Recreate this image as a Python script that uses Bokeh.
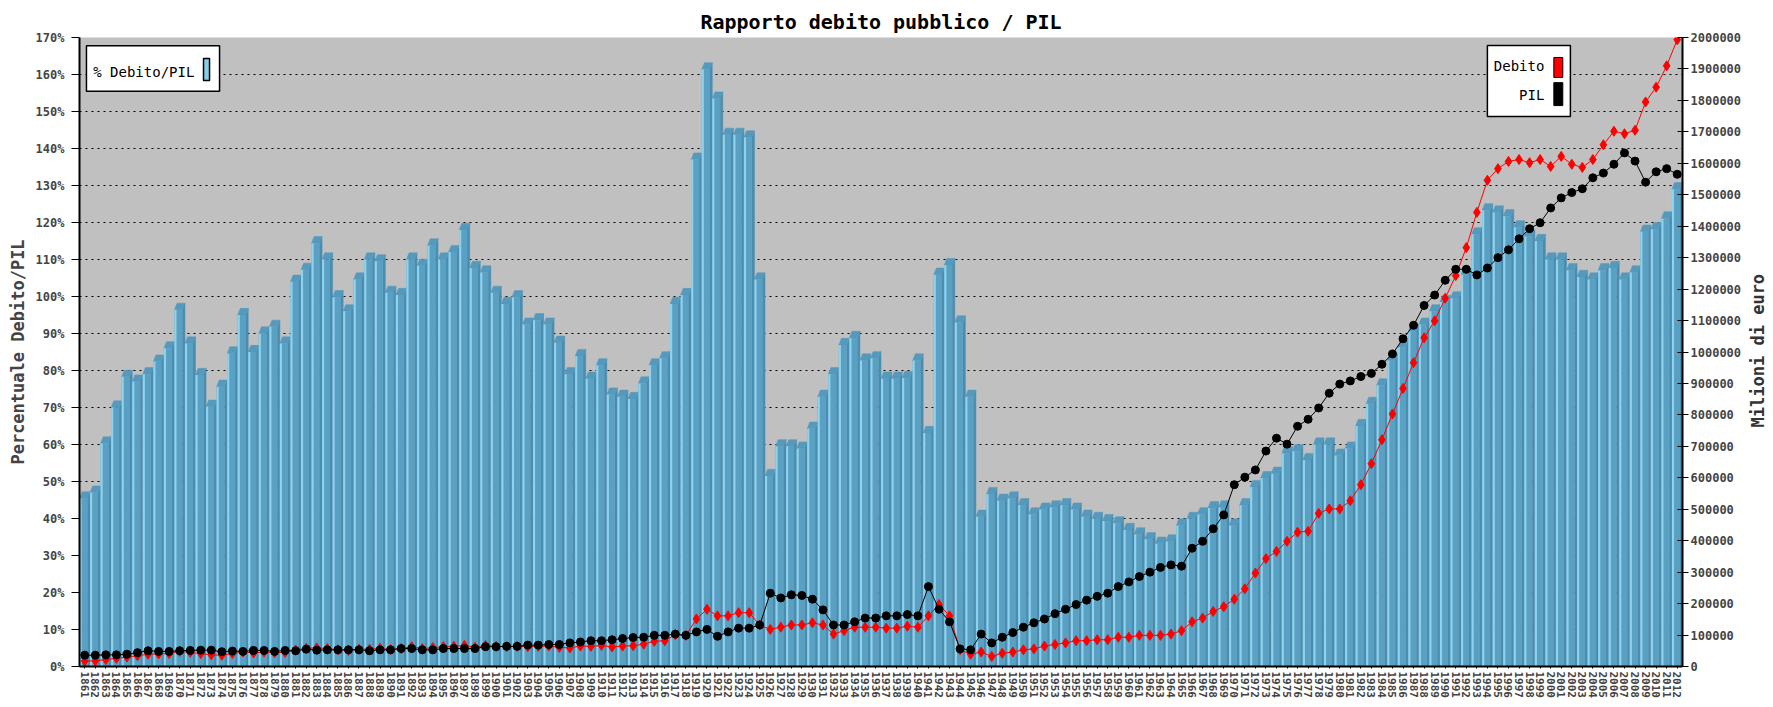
import math
from bokeh.plotting import figure
from bokeh.layouts import row
from bokeh.models import Range1d, LinearAxis, FixedTicker, BasicTickFormatter
from bokeh.embed import file_html
from bokeh.resources import INLINE
from bokeh.core.properties import value

years = list(range(1861, 2013))

ratio_pct = [
    45.4, 47.0, 60.3, 70.0, 78.3, 77.0, 79.0, 82.4, 86.0, 96.4,
    87.3, 78.8, 70.2, 75.6, 84.6, 95.0, 85.0, 90.0, 91.8, 87.3,
    104.0, 107.2, 114.4, 110.0, 99.8, 96.0, 104.6, 110.0, 109.5, 101.0,
    100.4, 110.0, 108.3, 113.8, 110.0, 112.0, 118.0, 107.7, 106.5, 101.0,
    98.0, 99.8, 92.4, 93.6, 92.4, 87.5, 79.0, 83.9, 77.8, 81.4,
    73.5, 72.9, 72.3, 76.5, 81.4, 83.3, 98.0, 100.4, 137.0, 161.4,
    153.5, 143.7, 143.7, 143.0, 104.6, 51.5, 59.5, 59.5, 58.9, 64.3,
    72.9, 79.0, 86.9, 88.8, 82.7, 83.3, 77.8, 77.8, 78.0, 82.7,
    63.1, 105.9, 108.5, 93.0, 72.9, 40.5, 46.6, 44.8, 45.4, 43.6,
    41.1, 42.4, 43.0, 43.6, 42.4, 40.5, 39.9, 39.3, 38.7, 36.9,
    35.7, 34.4, 33.2, 33.8, 38.1, 39.9, 41.1, 42.8, 43.0, 38.1,
    43.6, 48.5, 50.9, 52.1, 57.6, 58.2, 55.8, 60.0, 60.0, 57.0,
    58.9, 65.0, 71.0, 76.0, 82.7, 86.3, 90.6, 92.4, 96.0, 98.5,
    99.5, 105.9, 116.8, 123.3, 122.7, 121.7, 118.7, 116.2, 115.0, 110.0,
    110.0, 107.1, 105.3, 104.6, 107.1, 107.7, 104.6, 106.5, 117.5, 118.2,
    121.1, 129.0,
]

pil_meur = [
    36000, 36000, 37000, 37000, 39000, 44000, 50000, 48000, 48000, 50000,
    51000, 52000, 52000, 47000, 49000, 48000, 51000, 51000, 48000, 51000,
    50000, 55000, 52000, 53000, 53000, 53000, 53000, 50000, 53000, 53000,
    57000, 57000, 53000, 53000, 57000, 57000, 57000, 57000, 63000, 63000,
    64000, 64000, 68000, 68000, 70000, 70000, 75000, 78000, 82000, 82000,
    85000, 89000, 92000, 93000, 99000, 99000, 103000, 99000, 110000, 118000,
    96000, 110000, 122000, 122000, 132000, 233000, 218000, 228000, 226000, 214000,
    180000, 132000, 132000, 142000, 154000, 154000, 161000, 161000, 165000, 161000,
    254000, 182000, 142000, 56000, 53000, 103000, 75000, 93000, 108000, 125000,
    139000, 151000, 168000, 182000, 197000, 211000, 223000, 233000, 254000, 269000,
    286000, 300000, 315000, 323000, 319000, 376000, 398000, 438000, 482000, 578000,
    602000, 625000, 685000, 726000, 707000, 764000, 786000, 822000, 869000, 898000,
    908000, 922000, 932000, 961000, 994000, 1042000, 1085000, 1148000, 1181000, 1228000,
    1263000, 1263000, 1245000, 1267000, 1300000, 1325000, 1360000, 1392000, 1411000, 1458000,
    1490000, 1507000, 1519000, 1554000, 1569000, 1597000, 1633000, 1607000, 1540000, 1573000,
    1583000, 1565000,
]

debito_meur = [
    17000, 18000, 22000, 26000, 30000, 34000, 39000, 40000, 41000, 48000,
    45000, 41000, 37000, 36000, 41000, 46000, 43000, 46000, 44000, 45000,
    52000, 58000, 59000, 57000, 53000, 51000, 55000, 55000, 58000, 54000,
    57000, 63000, 57000, 60000, 63000, 64000, 67000, 61000, 67000, 64000,
    63000, 64000, 63000, 64000, 65000, 61000, 59000, 65000, 64000, 67000,
    62000, 65000, 66000, 71000, 80000, 82000, 101000, 99000, 151000, 182000,
    161000, 161000, 171000, 171000, 132000, 118000, 125000, 132000, 132000, 139000,
    132000, 103000, 114000, 125000, 125000, 125000, 122000, 122000, 128000, 125000,
    161000, 197000, 161000, 53000, 39000, 46000, 32000, 42000, 46000, 53000,
    56000, 65000, 70000, 75000, 82000, 82000, 85000, 85000, 93000, 93000,
    99000, 99000, 99000, 103000, 114000, 142000, 154000, 175000, 190000, 214000,
    247000, 297000, 343000, 366000, 398000, 427000, 430000, 487000, 501000, 501000,
    527000, 578000, 645000, 721000, 803000, 884000, 966000, 1045000, 1099000, 1171000,
    1243000, 1332000, 1444000, 1546000, 1583000, 1606000, 1612000, 1602000, 1612000, 1590000,
    1622000, 1597000, 1587000, 1612000, 1659000, 1702000, 1694000, 1705000, 1795000, 1842000,
    1910000, 1993000,
]

pct_ticks = list(range(0, 171, 10))
eur_ticks = list(range(0, 2000001, 100000))

MONO = "DejaVu Sans Mono"

p = figure(frame_width=1603, frame_height=629,
           x_range=Range1d(1860.5, 2012.5), y_range=Range1d(0, 170),
           output_backend="svg", toolbar_location=None,
           min_border_left=79, min_border_right=62, min_border_top=37, min_border_bottom=40,
           background_fill_color="#c0c0c0", border_fill_color="white",
           outline_line_color=None)
p.extra_y_ranges = {"eur": Range1d(0, 2000000)}

# title
p.title.text = "Rapporto debito pubblico / PIL"
p.title.align = "center"
p.title.text_font = MONO
p.title.text_font_size = "20px"
p.title.text_font_style = "bold"
p.title.text_color = "black"
p.title.standoff = 8

# grid
p.xgrid.visible = False
p.ygrid.ticker = FixedTicker(ticks=pct_ticks)
p.ygrid.grid_line_color = "black"
p.ygrid.grid_line_dash = "2 4"
p.ygrid.grid_line_width = 1

# 3D-looking bars
DY = 1.8
side_xs = [[x + 0.25, x + 0.25, x + 0.5, x + 0.5] for x in years]
side_ys = [[0, v, v + DY, 0] for v in ratio_pct]
cap_xs = [[x - 0.5, x - 0.25, x + 0.5, x + 0.25] for x in years]
cap_ys = [[v, v + DY, v + DY, v] for v in ratio_pct]
p.patches(side_xs, side_ys, fill_color="#4a8db0", line_color="#4a8db0", line_width=0.5)
p.patches(cap_xs, cap_ys, fill_color="#5599bd", line_color="#5599bd", line_width=0.5)
p.vbar(x=[x - 0.12 for x in years], width=0.76, top=ratio_pct, bottom=0,
       fill_color="#5aa0c2", line_color=None)
p.vbar(x=[x - 0.4 for x in years], width=0.2, top=ratio_pct, bottom=0,
       fill_color="#8ed2ee", line_color=None)

# lines
p.line(years, debito_meur, y_range_name="eur", line_color="#ff0000", line_width=1)
p.scatter(years, debito_meur, y_range_name="eur", marker="diamond", size=10,
          fill_color="#ff0000", line_color="#ff0000")
p.line(years, pil_meur, y_range_name="eur", line_color="black", line_width=1)
p.scatter(years, pil_meur, y_range_name="eur", marker="circle", size=8,
          fill_color="black", line_color="black")

# axes
xa = p.xaxis[0]
xa.ticker = FixedTicker(ticks=years)
xa.major_label_overrides = {y: str(y) for y in years}
xa.major_label_orientation = "vertical"
xa.major_label_text_font = MONO
xa.major_label_text_font_size = "11px"
xa.major_label_text_font_style = "bold"
xa.major_tick_out = 2
xa.major_tick_in = 0
xa.minor_tick_line_color = None
xa.axis_line_width = 2
xa.major_label_standoff = 3

ya = p.yaxis[0]
ya.ticker = FixedTicker(ticks=pct_ticks)
ya.major_label_overrides = {t: f"{t}%" for t in pct_ticks}
ya.major_label_text_font = MONO
ya.major_label_text_font_size = "12px"
ya.major_label_text_font_style = "bold"
ya.major_tick_out = 8
ya.major_tick_in = 0
ya.minor_tick_line_color = None
ya.axis_line_width = 2
ya.major_label_standoff = 7
ya.axis_label = "Percentuale Debito/PIL"
ya.axis_label_text_font = MONO
ya.axis_label_text_font_size = "17px"
ya.axis_label_text_font_style = "bold"
ya.axis_label_standoff = 5

ra = LinearAxis(y_range_name="eur", ticker=FixedTicker(ticks=eur_ticks),
                formatter=BasicTickFormatter(use_scientific=False))
ra.major_label_text_font = MONO
ra.major_label_text_font_size = "12px"
ra.major_label_text_font_style = "bold"
ra.major_tick_out = 6
ra.major_tick_in = 5
ra.minor_tick_line_color = None
ra.axis_line_width = 2
ra.major_label_standoff = 2
p.add_layout(ra, "right")

# legend: % Debito/PIL (top left)
p.quad(left=[1861.16], right=[1873.78], bottom=[155.5], top=[167.8],
       fill_color="white", line_color="black", line_width=1.5)
p.text(x=[1861.8], y=[160.6], text=["% Debito/PIL"], text_font=value(MONO),
       text_font_size="14px", text_align="left", text_baseline="middle", text_color="black")
p.quad(left=[1872.26], right=[1872.83], bottom=[158.4], top=[164.3],
       fill_color="#87ceeb", line_color="black", line_width=1.5)

# legend: Debito / PIL (top right)
p.quad(left=[1994.0], right=[2001.87], bottom=[148.65], top=[167.84],
       fill_color="white", line_color="black", line_width=1.5)
p.text(x=[1999.4, 1999.4], y=[162.3, 154.5], text=["Debito", "PIL"], text_font=value(MONO),
       text_font_size="14px", text_align="right", text_baseline="middle", text_color="black")
p.quad(left=[2000.3], right=[2001.15], bottom=[159.2], top=[164.6],
       fill_color="#ff0000", line_color="black", line_width=1)
p.quad(left=[2000.3], right=[2001.15], bottom=[151.6], top=[157.8],
       fill_color="black", line_color="black", line_width=1)

# narrow strip carrying the right axis title (reads bottom-to-top)
q = figure(width=29, height=706, x_range=Range1d(0, 1), y_range=Range1d(0, 706),
           output_backend="svg", toolbar_location=None,
           x_axis_location=None, y_axis_location=None,
           min_border=0, min_border_left=0, min_border_right=0,
           min_border_top=0, min_border_bottom=0,
           background_fill_color="white", border_fill_color="white",
           outline_line_color=None)
q.grid.visible = False
q.text(x=[0.45], y=[354.5], text=["Milioni di euro"], angle=math.pi / 2,
       text_font=value(MONO), text_font_size="17px", text_font_style="bold",
       text_align="center", text_baseline="middle", text_color="#333333")

layout = row(p, q, spacing=0)
open("out.html", "w").write(file_html(layout, INLINE))
